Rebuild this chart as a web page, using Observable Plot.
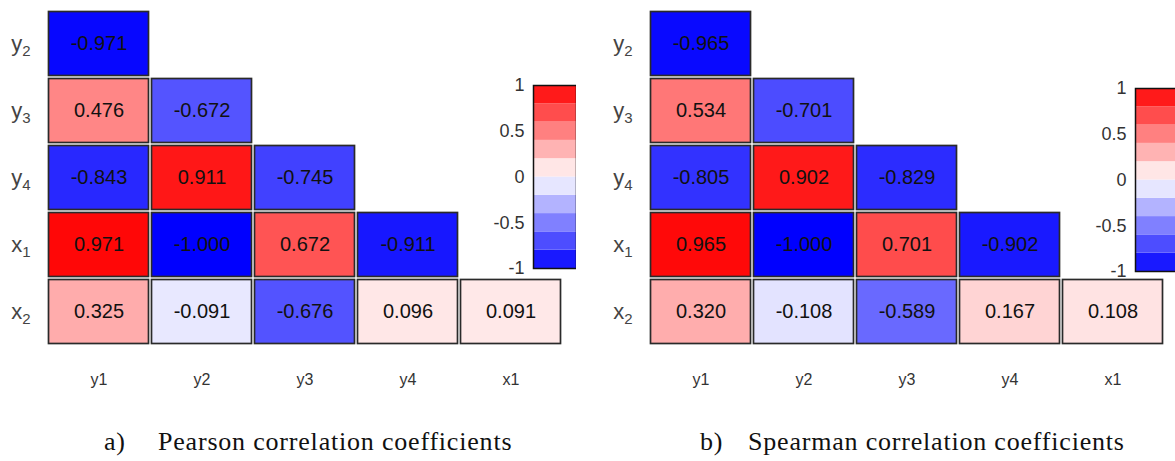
<!DOCTYPE html>
<html>
<head>
<meta charset="utf-8">
<script src="https://cdn.jsdelivr.net/npm/d3@7"></script>
<script src="https://cdn.jsdelivr.net/npm/@observablehq/plot@0.6"></script>
<style>
  html, body { margin: 0; padding: 0; background: #fff; }
  #wrap { position: relative; width: 1175px; height: 461px; overflow: hidden; }
  .abs { position: absolute; }
  .cap { position: absolute; font-family: "Liberation Serif", "DejaVu Serif", serif; font-size: 26px; letter-spacing: 0.8px; color: #111; white-space: nowrap; line-height: 1; }
</style>
</head>
<body>
<div id="wrap"></div>
<script>
// ---- data ----
const rows = ["y2", "y3", "y4", "x1", "x2"];
const cols = ["y1", "y2", "y3", "y4", "x1"];
const pearsonY2 = [-0.971];
const pearsonY3 = [0.476, -0.672];
const pearsonY4 = [-0.843, 0.911, -0.745];
const pearsonX1 = [0.971, -1.000, 0.672, -0.911];
const pearsonX2 = [0.325, -0.091, -0.676, 0.096, 0.091];
const spearmanY2 = [-0.965];
const spearmanY3 = [0.534, -0.701];
const spearmanY4 = [-0.805, 0.902, -0.829];
const spearmanX1 = [0.965, -1.000, 0.701, -0.902];
const spearmanX2 = [0.320, -0.108, -0.589, 0.167, 0.108];
const legendBreaks = [-1, -0.8, -0.6, -0.4, -0.2, 0, 0.2, 0.4, 0.6, 0.8, 1];
const legendTicks = [-1, -0.5, 0, 0.5, 1];
const captionA = ["a)", "Pearson correlation coefficients"];
const captionB = ["b)", "Spearman correlation coefficients"];

const colorScale = {type: "linear", domain: [-1, 0, 1], range: ["#0000ff", "#ffffff", "#ff0000"], interpolate: "rgb"};

function buildTable(lists) {
  const out = [];
  lists.forEach((vals, i) => vals.forEach((v, j) => out.push({row: rows[i], col: cols[j], v})));
  return out;
}

function subscriptLabels(svg) {
  svg.querySelectorAll('g[aria-label="y-axis tick label"] text').forEach(t => {
    const s = t.textContent;
    t.textContent = "";
    const a = document.createElementNS("http://www.w3.org/2000/svg", "tspan");
    a.textContent = s[0];
    const b = document.createElementNS("http://www.w3.org/2000/svg", "tspan");
    b.textContent = s.slice(1);
    b.setAttribute("font-size", "15");
    b.setAttribute("dy", "0.35em");
    t.appendChild(a); t.appendChild(b);
  });
}

function panel(lists) {
  const data = buildTable(lists);
  const svg = Plot.plot({
    width: 602, height: 400,
    marginLeft: 47, marginRight: 40, marginTop: 8, marginBottom: 53,
    style: {fontFamily: "Liberation Sans, Arial, sans-serif", background: "transparent"},
    x: {domain: cols, padding: 0, axis: null},
    y: {domain: rows, padding: 0, axis: null},
    color: colorScale,
    marks: [
      Plot.cell(data, {x: "col", y: "row", fill: "v", stroke: "#2a2a2a", strokeWidth: 1.7, inset: 1.5}),
      Plot.text(data, {x: "col", y: "row", text: d => d.v.toFixed(3), fontSize: 20, fill: "#111"}),
      Plot.axisX({domain: cols, tickSize: 0, tickPadding: 26, fontSize: 16, fill: "#333", label: null}),
      Plot.axisY({tickSize: 0, tickPadding: 17, fontSize: 22, fill: "#444", label: null})
    ]
  });
  subscriptLabels(svg);
  return svg;
}

function legend() {
  const bins = d3.pairs(legendBreaks).map(([lo, hi]) => ({lo, hi, mid: (lo + hi) / 2}));
  return Plot.plot({
    width: 100, height: 203,
    marginTop: 10, marginBottom: 10, marginLeft: 57, marginRight: 0,
    style: {fontFamily: "Liberation Sans, Arial, sans-serif", background: "transparent"},
    x: {domain: [0, 1], axis: null},
    y: {domain: [-1, 1], axis: null},
    color: colorScale,
    marks: [
      Plot.rect(bins, {x1: 0, x2: 1, y1: "lo", y2: "hi", fill: "mid"}),
      Plot.frame({stroke: "#111", strokeWidth: 1.5}),
      Plot.axisY({ticks: legendTicks, tickSize: 0, tickPadding: 9, fontSize: 18, fill: "#333", label: null, tickFormat: d => String(d)})
    ]
  });
}

const wrap = document.getElementById("wrap");
function place(el, left, top) { el.classList.add("abs"); el.style.left = left + "px"; el.style.top = top + "px"; wrap.appendChild(el); }

place(panel([pearsonY2, pearsonY3, pearsonY4, pearsonX1, pearsonX2]), 0, 0);
place(legend(), 476, 75);
place(panel([spearmanY2, spearmanY3, spearmanY4, spearmanX1, spearmanX2]), 602, 0);
place(legend(), 1078, 78);

function caption(parts, x1, x2) {
  const a = document.createElement("div"); a.className = "cap"; a.textContent = parts[0];
  a.style.left = x1 + "px"; a.style.top = "429px"; wrap.appendChild(a);
  const b = document.createElement("div"); b.className = "cap"; b.textContent = parts[1];
  b.style.left = x2 + "px"; b.style.top = "429px"; wrap.appendChild(b);
}
caption(captionA, 104, 158);
caption(captionB, 700, 748);
</script>
</body>
</html>
